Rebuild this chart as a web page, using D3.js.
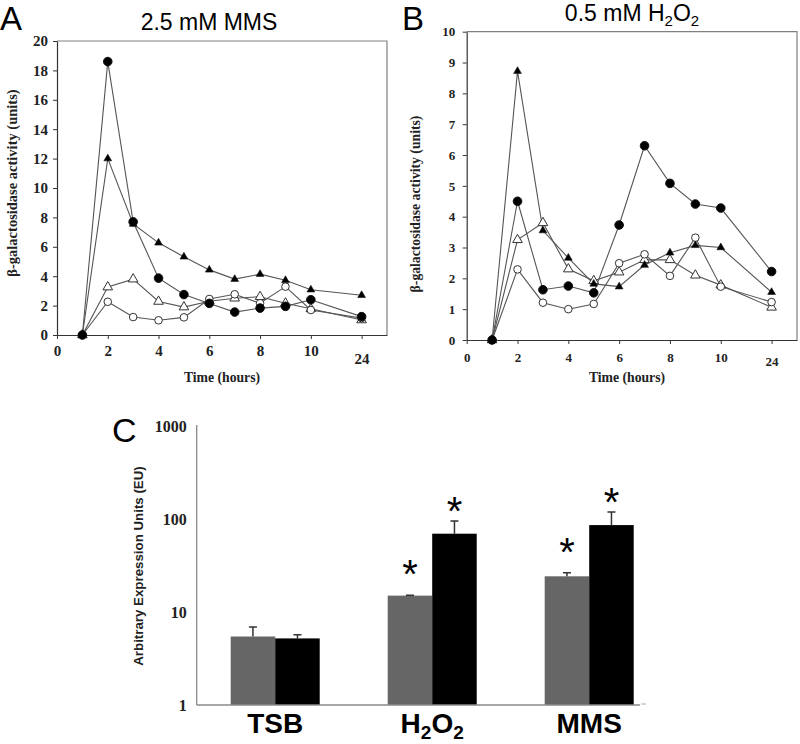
<!DOCTYPE html>
<html><head><meta charset="utf-8">
<script src="https://cdn.jsdelivr.net/npm/d3@7"></script>
<style>body{margin:0;background:#fff} svg{display:block}</style>
</head><body>
<svg id="chart" width="800" height="744"></svg>
<script>
// ---------- DATA ----------
const hours = [1, 2, 3, 4, 5, 6, 7, 8, 9, 10, 24];
const timeTicks = [0, 2, 4, 6, 8, 10, 24];

// Panel A: 2.5 mM MMS
const mmsFilledCircle   = [0, 18.6, 7.7, 3.87, 2.75, 2.15, 1.56, 1.83, 1.95, 2.4, 1.25];
const mmsFilledTriangle = [0, 12.0, 7.55, 6.27, 5.32, 4.43, 3.8, 4.14, 3.72, 3.08, 2.7];
const mmsOpenTriangle   = [0, 3.26, 3.8, 2.28, 1.9, 2.3, 2.5, 2.6, 2.16, 1.78, 1.02];
const mmsOpenCircle     = [0, 2.26, 1.22, 1.0, 1.2, 2.45, 2.77, 2.16, 3.29, 1.7, 1.15];
const yTicksA = [0, 2, 4, 6, 8, 10, 12, 14, 16, 18, 20];

// Panel B: 0.5 mM H2O2
const h2o2FilledCircle   = [0, 4.5, 1.63, 1.75, 1.53, 3.73, 6.3, 5.08, 4.41, 4.28, 2.22];
const h2o2FilledTriangle = [0, 8.72, 3.55, 2.66, 1.82, 1.73, 2.43, 2.83, 3.07, 3.0, 1.55];
const h2o2OpenTriangle   = [0, 3.25, 3.8, 2.3, 1.92, 2.2, 2.6, 2.6, 2.1, 1.78, 1.06];
const h2o2OpenCircle     = [0, 2.29, 1.21, 1.0, 1.17, 2.49, 2.78, 2.08, 3.32, 1.73, 1.23];
const yTicksB = [0, 1, 2, 3, 4, 5, 6, 7, 8, 9, 10];

// Panel C
const categories  = ["TSB", "H2O2", "MMS"];
const grayValues  = [5.45, 15.0, 24.2];
const grayErr     = [1.45, 0.1, 2.2];
const blackValues = [5.2, 69.5, 86];
const blackErr    = [0.5, 25.5, 32.7];
const graySig     = [false, true, true];
const blackSig    = [false, true, true];
const logTicks    = [1, 10, 100, 1000];

// ---------- HELPERS ----------
const svg = d3.select("#chart");
const serif = "'Liberation Serif','Times New Roman',serif";
const sans = "'Liberation Sans',Arial,sans-serif";

function richText(textSel, str, subSize, shift) {
  const runs = [];
  let prev = "";
  for (const ch of str) {
    const isSub = /\d/.test(ch) && /[A-Z]/.test(prev);
    if (runs.length && runs[runs.length - 1].sub === isSub) runs[runs.length - 1].t += ch;
    else runs.push({ t: ch, sub: isSub });
    prev = ch;
  }
  let shifted = false;
  runs.forEach(r => {
    const ts = textSel.append("tspan").text(r.t);
    if (r.sub) { ts.attr("font-size", subSize).attr("dy", shift); shifted = true; }
    else if (shifted) { ts.attr("dy", -shift); shifted = false; }
  });
}

function drawMarker(g, type, cx, cy) {
  if (type === "fc") {
    g.append("circle").attr("cx", cx).attr("cy", cy).attr("r", 4.3).attr("fill", "#000").attr("stroke", "#111");
  } else if (type === "oc") {
    g.append("circle").attr("cx", cx).attr("cy", cy).attr("r", 3.8).attr("fill", "#fff").attr("stroke", "#333").attr("stroke-width", 1);
  } else if (type === "ft") {
    g.append("path").attr("d", d3.symbol(d3.symbolTriangle, 26)()).attr("transform", `translate(${cx},${cy})`).attr("fill", "#000").attr("stroke", "#111").attr("stroke-width", 0.6);
  } else {
    g.append("path").attr("d", d3.symbol(d3.symbolTriangle, 40)()).attr("transform", `translate(${cx},${cy})`).attr("fill", "#fff").attr("stroke", "#333").attr("stroke-width", 1);
  }
}

function linePanel(cfg) {
  const { left, right, top, bottom, yMax, yTicks, series, tickSize, xPad, yPad, extra24 } = cfg;
  const unit = (right - left) / 13;
  const x = d3.scaleLinear().domain([0, 10, 24, 31])
    .range([left, left + 10 * unit, left + 12 * unit, left + 13 * unit]);
  const y = d3.scaleLinear().domain([0, yMax]).range([bottom, top]);
  const g = svg.append("g");

  g.append("path").attr("d", `M${left},${top}H${right}V${bottom}`)
    .attr("fill", "none").attr("stroke", "#808080").attr("stroke-width", 1.2);

  const ya = g.append("g").attr("transform", `translate(${left},0)`)
    .call(d3.axisLeft(y).tickValues(yTicks).tickSize(4).tickSizeOuter(0).tickPadding(yPad));
  const xa = g.append("g").attr("transform", `translate(0,${bottom})`)
    .call(d3.axisBottom(x).tickValues(timeTicks).tickSize(4).tickSizeOuter(0).tickPadding(xPad).tickFormat(d => d));
  [ya, xa].forEach(a => {
    a.select(".domain").attr("stroke", "#333").attr("stroke-width", 1.2);
    a.selectAll(".tick line").attr("stroke", "#333");
    a.selectAll(".tick text").attr("font-family", serif).attr("font-weight", "bold")
      .attr("font-size", tickSize).attr("fill", "#222");
  });
  xa.selectAll(".tick text").filter(d => d === 24).attr("transform", `translate(0,${extra24})`);

  const line = d3.line().x((d, i) => x(hours[i])).y(d => y(d));
  series.forEach(s => {
    g.append("path").datum(s.values).attr("d", line)
      .attr("fill", "none").attr("stroke", "#555").attr("stroke-width", 1.1);
  });
  series.forEach(s => {
    s.values.forEach((v, i) => drawMarker(g, s.type, x(hours[i]), y(v)));
  });
  return { x, y };
}

// ---------- PANEL A ----------
linePanel({
  left: 57, right: 387, top: 41, bottom: 335, yMax: 20, yTicks: yTicksA,
  tickSize: 15, xPad: 6, yPad: 5, extra24: 8,
  series: [
    { type: "ot", values: mmsOpenTriangle },
    { type: "oc", values: mmsOpenCircle },
    { type: "ft", values: mmsFilledTriangle },
    { type: "fc", values: mmsFilledCircle }
  ]
});

// ---------- PANEL B ----------
linePanel({
  left: 466.7, right: 797, top: 31.7, bottom: 340, yMax: 10, yTicks: yTicksB,
  tickSize: 13, xPad: 9, yPad: 7.5, extra24: 4,
  series: [
    { type: "ot", values: h2o2OpenTriangle },
    { type: "oc", values: h2o2OpenCircle },
    { type: "ft", values: h2o2FilledTriangle },
    { type: "fc", values: h2o2FilledCircle }
  ]
});

// Panel labels & titles
svg.append("text").attr("x", 0).attr("y", 30).attr("font-family", sans).attr("font-size", 33).text("A");
svg.append("text").attr("x", 402).attr("y", 30).attr("font-family", sans).attr("font-size", 33).text("B");
svg.append("text").attr("x", 112).attr("y", 442).attr("font-family", sans).attr("font-size", 34).text("C");

svg.append("text").attr("x", 209).attr("y", 30).attr("text-anchor", "middle")
  .attr("font-family", sans).attr("font-size", 23).text("2.5 mM MMS");
richText(svg.append("text").attr("x", 632).attr("y", 21).attr("text-anchor", "middle")
  .attr("font-family", sans).attr("font-size", 23), "0.5 mM H2O2", 15, 5);

// Axis titles A/B
svg.append("text").attr("transform", "translate(17,183) rotate(-90)").attr("text-anchor", "middle")
  .attr("font-family", serif).attr("font-weight", "bold").attr("font-size", 14.5).attr("fill", "#222")
  .text("β-galactosidase activity (units)");
svg.append("text").attr("transform", "translate(420,204) rotate(-90)").attr("text-anchor", "middle")
  .attr("font-family", serif).attr("font-weight", "bold").attr("font-size", 13.7).attr("fill", "#222")
  .text("β-galactosidase activity (units)");
svg.append("text").attr("x", 222).attr("y", 382).attr("text-anchor", "middle")
  .attr("font-family", serif).attr("font-weight", "bold").attr("font-size", 13.7).attr("fill", "#222")
  .text("Time (hours)");
svg.append("text").attr("x", 627).attr("y", 382).attr("text-anchor", "middle")
  .attr("font-family", serif).attr("font-weight", "bold").attr("font-size", 13.7).attr("fill", "#222")
  .text("Time (hours)");

// ---------- PANEL C ----------
const cLeft = 196.7, cBottom = 705, cTop = 426, step = 157;
const yC = d3.scaleLog().domain([1, 1000]).range([cBottom, cTop]);
const xC = d3.scaleBand().domain(categories).range([cLeft, cLeft + 3 * step])
  .paddingInner(0.433).paddingOuter(0.2165);
const gC = svg.append("g");
const bw = xC.bandwidth() / 2;

const yAxC = gC.append("g").attr("transform", `translate(${cLeft},0)`)
  .call(d3.axisLeft(yC).tickValues(logTicks).tickSize(0).tickPadding(10).tickFormat(d3.format("d")));
yAxC.select(".domain").attr("stroke", "#8a8a8a").attr("stroke-width", 1.3).attr("d", `M0,${cTop - 1}V${cBottom}`);
yAxC.selectAll(".tick text").attr("font-family", serif).attr("font-weight", "bold").attr("font-size", 16).attr("fill", "#222");

categories.forEach((c, i) => {
  const x0 = xC(c);
  const groups = [
    { v: grayValues[i], e: grayErr[i], sig: graySig[i], fill: "#666666", x: x0, off: 29 },
    { v: blackValues[i], e: blackErr[i], sig: blackSig[i], fill: "#000000", x: x0 + bw, off: 18 }
  ];
  groups.forEach(b => {
    gC.append("rect").attr("x", b.x).attr("width", bw).attr("y", yC(b.v))
      .attr("height", cBottom - yC(b.v)).attr("fill", b.fill);
    const cx = b.x + bw / 2, yt = yC(b.v + b.e);
    gC.append("path").attr("d", `M${cx},${yC(b.v)}V${yt}M${cx - 4},${yt}H${cx + 4}`)
      .attr("stroke", "#333").attr("stroke-width", 1.5).attr("fill", "none");
    if (b.sig) {
      gC.append("text").attr("x", cx).attr("y", yt - b.off + 22).attr("text-anchor", "middle")
        .attr("font-family", sans).attr("font-size", 40).text("*");
    }
  });
  richText(gC.append("text").attr("x", x0 + bw).attr("y", 733).attr("text-anchor", "middle")
    .attr("font-family", sans).attr("font-weight", "bold").attr("font-size", 28), c, 19, 6);
});

gC.append("path").attr("d", `M${cLeft},${cBottom}H640`).attr("stroke", "#8a8a8a").attr("stroke-width", 1.3);
gC.append("path").attr("d", `M641,${cBottom - 1}H646`).attr("stroke", "#aaa").attr("stroke-width", 1);

svg.append("text").attr("transform", "translate(143,566) rotate(-90)").attr("text-anchor", "middle")
  .attr("font-family", sans).attr("font-weight", "bold").attr("font-size", 13.3).attr("fill", "#222")
  .text("Arbitrary Expression Units (EU)");
</script>
</body></html>
